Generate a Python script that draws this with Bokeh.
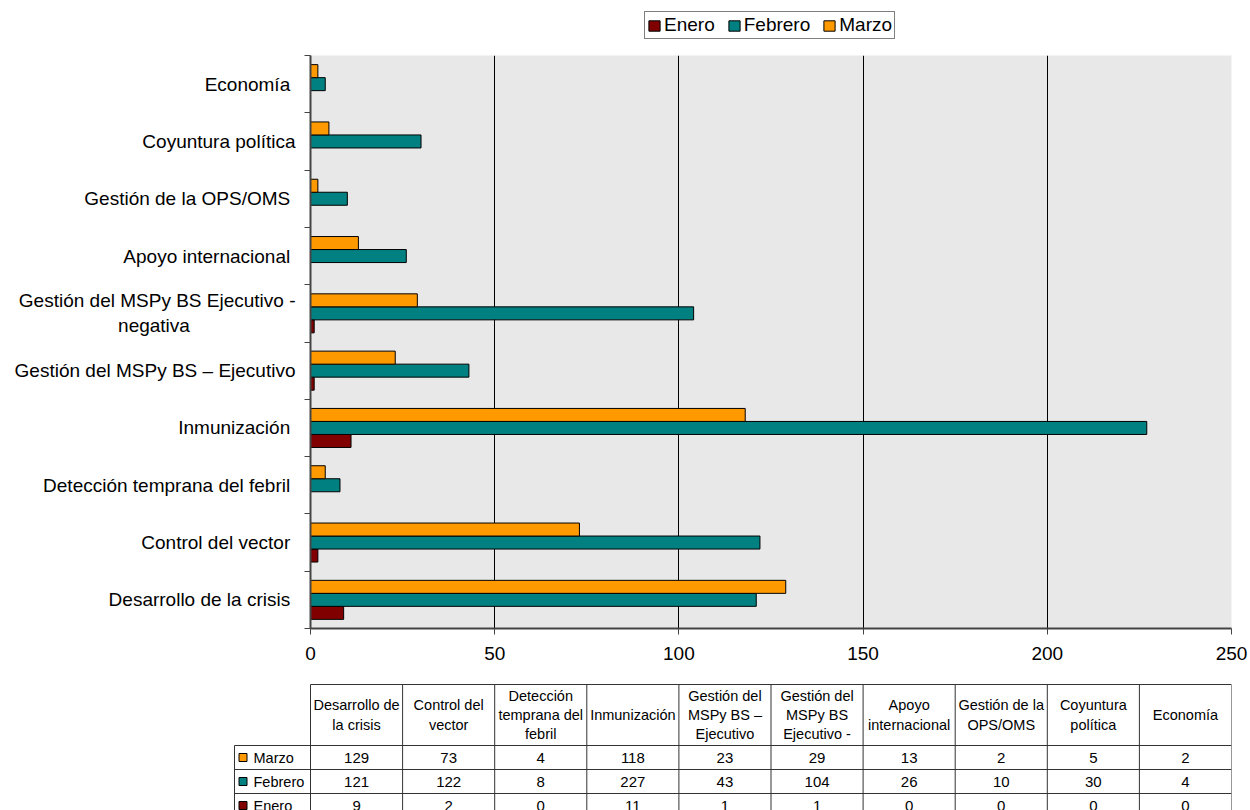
from bokeh.plotting import figure
from bokeh.models import Range1d, FixedTicker, Legend, LegendItem, ColumnDataSource
from bokeh.embed import file_html
from bokeh.resources import INLINE
from bokeh.core.properties import value

NB = "\u00a0"

# ---------------- data ----------------
categories = [
    "Desarrollo de la crisis",
    "Control del vector",
    "Detección temprana del febril",
    "Inmunización",
    "Gestión del MSPy BS – Ejecutivo",
    "Gestión del MSPy BS Ejecutivo - negativa",
    "Apoyo internacional",
    "Gestión de la OPS/OMS",
    "Coyuntura política",
    "Economía",
]
axis_labels = [
    "Desarrollo de la crisis" + NB,
    "Control del vector" + NB,
    "Detección temprana del febril" + NB,
    "Inmunización" + NB,
    "Gestión del MSPy BS – Ejecutivo",
    "Gestión del MSPy BS Ejecutivo -\nnegativa" + NB * 20,
    "Apoyo internacional" + NB,
    "Gestión de la OPS/OMS" + NB,
    "Coyuntura política",
    "Economía" + NB,
]
table_headers = [
    "Desarrollo de\nla crisis",
    "Control del\nvector",
    "Detección\ntemprana del\nfebril",
    "Inmunización",
    "Gestión del\nMSPy BS –\nEjecutivo",
    "Gestión del\nMSPy BS\nEjecutivo -",
    "Apoyo\ninternacional",
    "Gestión de la\nOPS/OMS",
    "Coyuntura\npolítica",
    "Economía",
]
marzo = [129, 73, 4, 118, 23, 29, 13, 2, 5, 2]
febrero = [121, 122, 8, 227, 43, 104, 26, 10, 30, 4]
enero = [9, 2, 0, 11, 1, 1, 0, 0, 0, 0]

series_names = ["Enero", "Febrero", "Marzo"]
series_values = {"Enero": enero, "Febrero": febrero, "Marzo": marzo}
series_colors = {"Enero": "#800000", "Febrero": "#008080", "Marzo": "#FF9900"}
table_rows = ["Marzo", "Febrero", "Enero"]
x_ticks = [0, 50, 100, 150, 200, 250]

FONT = "Liberation Sans"
n = len(categories)
W = 1250
bar_h = 0.227
offsets = {"Marzo": bar_h, "Febrero": 0.0, "Enero": -bar_h}


def series_source(s):
    return ColumnDataSource(dict(
        y=[i + 1 + offsets[s] for i in range(n)],
        right=series_values[s],
    ))


# ---------------- legend strip ----------------
lg = figure(width=W, height=47, output_backend="svg", toolbar_location=None,
            x_range=Range1d(0, 250), y_range=Range1d(-20, -10),
            min_border_left=0, min_border_right=0, min_border_top=0, min_border_bottom=0,
            x_axis_location=None, y_axis_location=None)
lg.outline_line_color = None
lg.xgrid.visible = False
lg.ygrid.visible = False
lg.background_fill_color = "white"
lg.border_fill_color = "white"
leg_r = {}
for s in series_names:
    # hidden copy of each series: only its legend key is shown
    leg_r[s] = lg.hbar(y="y", right="right", left=0, height=bar_h, source=series_source(s),
                       fill_color=series_colors[s], line_color="black", line_width=1,
                       visible=False)
legend = Legend(items=[LegendItem(label=s, renderers=[leg_r[s]]) for s in series_names],
                orientation="horizontal", location=(644, 8))
legend.margin = 0
legend.padding = 2
legend.spacing = 12
legend.label_standoff = 3
legend.glyph_width = 14
legend.glyph_height = 13
legend.label_height = 14
legend.label_text_font = FONT
legend.label_text_font_size = "19px"
legend.label_text_color = "black"
legend.label_text_baseline = "middle"
legend.border_line_color = "black"
legend.border_line_width = 1
legend.background_fill_color = "white"
legend.background_fill_alpha = 1
legend.inactive_fill_alpha = 0
legend.click_policy = "none"
lg.add_layout(legend)

# ---------------- chart ----------------
p = figure(width=W, height=623, output_backend="svg", toolbar_location=None,
           x_range=Range1d(0, 250), y_range=Range1d(0.5, n + 0.5),
           min_border_left=310, min_border_right=19, min_border_top=8,
           min_border_bottom=42)
p.background_fill_color = "#e8e8e8"
p.border_fill_color = "white"
p.outline_line_color = None

for s in series_names:
    p.hbar(y="y", right="right", left=0, height=bar_h, source=series_source(s),
           fill_color=series_colors[s], line_color="black", line_width=1)

p.ygrid.grid_line_color = None
p.xgrid.ticker = FixedTicker(ticks=x_ticks[1:])
p.xgrid.grid_line_color = "black"
p.xgrid.grid_line_width = 1

p.xaxis.ticker = FixedTicker(ticks=x_ticks)
p.xaxis.axis_line_color = "#444444"
p.xaxis.axis_line_width = 2
p.xaxis.major_tick_line_color = "#444444"
p.xaxis.major_tick_out = 6
p.xaxis.major_tick_in = 0
p.xaxis.minor_tick_line_color = None
p.xaxis.major_label_text_font = FONT
p.xaxis.major_label_text_font_size = "19px"
p.xaxis.major_label_text_color = "black"
p.xaxis.major_label_standoff = 12

p.yaxis.ticker = FixedTicker(ticks=[i + 1 for i in range(n)],
                             minor_ticks=[i + 0.5 for i in range(n + 1)])
p.yaxis.major_label_overrides = {i + 1: axis_labels[i] for i in range(n)}
p.yaxis.axis_line_color = "#444444"
p.yaxis.axis_line_width = 2
p.yaxis.major_tick_line_color = None
p.yaxis.major_tick_out = 0
p.yaxis.major_tick_in = 0
p.yaxis.minor_tick_line_color = "#444444"
p.yaxis.minor_tick_out = 6
p.yaxis.minor_tick_in = 0
p.yaxis.major_label_text_font = FONT
p.yaxis.major_label_text_font_size = "19px"
p.yaxis.major_label_text_color = "black"
p.yaxis.major_label_standoff = 9

# ---------------- data table ----------------
col_w_px = (1231 - 310) / n
x_left = -(310 - 230) / col_w_px
lab_left = -(310 - 234) / col_w_px
row_px = 24
hdr_top = 61 / row_px
t = figure(width=W, height=140, output_backend="svg", toolbar_location=None,
           x_range=Range1d(x_left, n), y_range=Range1d(-(810 - 745) / row_px, (745 - 670) / row_px),
           min_border_left=230, min_border_right=19, min_border_top=0, min_border_bottom=0,
           x_axis_location=None, y_axis_location=None)
t.outline_line_color = None
t.xgrid.visible = False
t.ygrid.visible = False
t.background_fill_color = "white"
t.border_fill_color = "white"

nr = len(table_rows)
hx0 = [0] + [lab_left] * (nr + 1)
hx1 = [n] * (nr + 2)
hy = [hdr_top] + [-r for r in range(nr + 1)]
t.segment(x0=hx0, y0=hy, x1=hx1, y1=hy, line_color="#333333", line_width=1)
vx = list(range(n + 1)) + [lab_left]
vy0 = [hdr_top] * (n + 1) + [0]
vy1 = [-nr] * (n + 2)
t.segment(x0=vx, y0=vy0, x1=vx, y1=vy1, line_color="#333333", line_width=1)

t.text(x=[i + 0.5 for i in range(n)], y=[hdr_top / 2] * n, text=table_headers,
       text_align="center", text_baseline="middle", text_font=value(FONT),
       text_font_size="14.5px", text_color="black", text_line_height=1.2)

vals_x, vals_y, vals_t = [], [], []
for r, s in enumerate(table_rows):
    for i in range(n):
        vals_x.append(i + 0.5)
        vals_y.append(-r - 0.5)
        vals_t.append(str(series_values[s][i]))
t.text(x=vals_x, y=vals_y, text=vals_t, text_align="center", text_baseline="middle",
       text_font=value(FONT), text_font_size="15px", text_color="black")

key_x = (242.5 - 310) / col_w_px
t.rect(x=[key_x] * nr, y=[-r - 0.5 for r in range(nr)], width=8, height=8,
       width_units="screen", height_units="screen",
       fill_color=[series_colors[s] for s in table_rows], line_color="black", line_width=1)
t.text(x=[(253 - 310) / col_w_px] * nr, y=[-r - 0.5 for r in range(nr)], text=table_rows,
       text_align="left", text_baseline="middle", text_font=value(FONT),
       text_font_size="14.5px", text_color="black")

open("out.html", "w").write(file_html([lg, p, t], INLINE))
